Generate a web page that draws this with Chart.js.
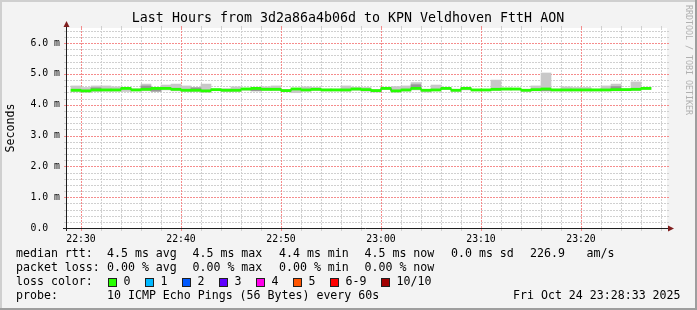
<!DOCTYPE html>
<html>
<head>
<meta charset="utf-8">
<script src="https://cdn.jsdelivr.net/npm/chart.js@4.4.1/dist/chart.umd.min.js"></script>
<style>
  html, body { margin: 0; padding: 0; background: #f3f3f3; }
  canvas { display: block; }
</style>
</head>
<body>
<canvas id="myChart" width="697" height="310"></canvas>
<script>
/* global Chart */

// one smoke bar per minute
const times = [
  "22:29", "22:30", "22:31", "22:32", "22:33", "22:34", "22:35", "22:36", "22:37", "22:38",
  "22:39", "22:40", "22:41", "22:42", "22:43", "22:44", "22:45", "22:46", "22:47", "22:48",
  "22:49", "22:50", "22:51", "22:52", "22:53", "22:54", "22:55", "22:56", "22:57", "22:58",
  "22:59", "23:00", "23:01", "23:02", "23:03", "23:04", "23:05", "23:06", "23:07", "23:08",
  "23:09", "23:10", "23:11", "23:12", "23:13", "23:14", "23:15", "23:16", "23:17", "23:18",
  "23:19", "23:20", "23:21", "23:22", "23:23", "23:24", "23:25", "23:26"
];
// milliseconds
const medianRtt = [
  4.47, 4.45, 4.48, 4.48, 4.48, 4.53, 4.48, 4.50, 4.53, 4.53,
  4.50, 4.47, 4.47, 4.45, 4.49, 4.47, 4.47, 4.51, 4.53, 4.50,
  4.50, 4.46, 4.51, 4.48, 4.50, 4.48, 4.48, 4.48, 4.51, 4.49,
  4.46, 4.53, 4.45, 4.48, 4.53, 4.47, 4.48, 4.53, 4.47, 4.53,
  4.48, 4.48, 4.50, 4.51, 4.51, 4.47, 4.49, 4.51, 4.48, 4.48,
  4.48, 4.48, 4.48, 4.48, 4.49, 4.49, 4.50, 4.53
];
const smokeMin = [
  4.42, 4.41, 4.43, 4.44, 4.44, 4.43, 4.45, 4.45, 4.43, 4.48,
  4.45, 4.43, 4.43, 4.41, 4.46, 4.43, 4.43, 4.47, 4.45, 4.46,
  4.46, 4.43, 4.39, 4.44, 4.46, 4.45, 4.45, 4.44, 4.47, 4.44,
  4.41, 4.49, 4.41, 4.44, 4.48, 4.41, 4.45, 4.49, 4.43, 4.48,
  4.45, 4.45, 4.46, 4.48, 4.48, 4.43, 4.45, 4.45, 4.45, 4.45,
  4.45, 4.45, 4.45, 4.45, 4.45, 4.46, 4.46, 4.50
];
const smokeMax = [
  4.61, 4.56, 4.61, 4.61, 4.58, 4.56, 4.52, 4.67, 4.55, 4.64,
  4.67, 4.61, 4.56, 4.67, 4.51, 4.52, 4.58, 4.54, 4.55, 4.58,
  4.61, 4.50, 4.54, 4.58, 4.56, 4.51, 4.51, 4.61, 4.56, 4.56,
  4.49, 4.56, 4.59, 4.61, 4.72, 4.50, 4.64, 4.56, 4.50, 4.56,
  4.50, 4.50, 4.80, 4.54, 4.53, 4.49, 4.61, 5.03, 4.51, 4.58,
  4.56, 4.56, 4.51, 4.61, 4.67, 4.52, 4.74, 4.56
];
// darker inner smoke, only where it shows
const coreLo = [
  null, null, 4.50, null, null, null, null, 4.52, 4.44, null,
  null, null, 4.47, null, null, null, null, null, 4.45, null,
  null, null, null, null, null, null, null, null, null, null,
  4.43, null, null, null, 4.55, null, null, null, null, null,
  null, null, null, null, null, null, null, 4.45, null, null,
  null, null, null, null, 4.50, null, null, null
];
const coreHi = [
  null, null, 4.55, null, null, null, null, 4.61, 4.52, null,
  null, null, 4.55, null, null, null, null, null, 4.52, null,
  null, null, null, null, null, null, null, null, null, null,
  4.47, null, null, null, 4.65, null, null, null, null, null,
  null, null, null, null, null, null, null, 4.50, null, null,
  null, null, null, null, 4.59, null, null, null
];

const xTickLabels = ["22:30", "22:40", "22:50", "23:00", "23:10", "23:20"];
const yTickLabels = ["0.0  ", "1.0 m", "2.0 m", "3.0 m", "4.0 m", "5.0 m", "6.0 m"];
const lossLabels = ["0", "1", "2", "3", "4", "5", "6-9", "10/10"];
const lossColors = ["#26ff00", "#00b8ff", "#0059ff", "#5e00ff", "#ff00ea", "#ff5500", "#ff0000", "#a10000"];
const rttStats = ["4.5 ms avg", "4.5 ms max", "4.4 ms min", "4.5 ms now", "0.0 ms sd", "226.9", "am/s"];
const lossStats = ["0.00 % avg", "0.00 % max", "0.00 % min", "0.00 % now"];
const titleText = "Last Hours from 3d2a86a4b06d to KPN Veldhoven FttH AON";
const probeText = "10 ICMP Echo Pings (56 Bytes) every 60s";
const stampText = "Fri Oct 24 23:28:33 2025";

// minutes after 22:00
function toMin(t) {
  const p = t.split(":").map(Number);
  return (p[0] - 22) * 60 + p[1];
}

const MONO = '"DejaVu Sans Mono"';
const gridMinor = "rgb(208,208,208)";
const gridMajor = "rgb(245,140,140)";
const bandHalf = 0.035; // half height of the median band

const last = times.length - 1;
const medianLine = times.map((t, i) => ({ x: toMin(t), y: medianRtt[i] }));
medianLine.push({ x: toMin(times[last]) + 1, y: medianRtt[last] });

// grid: every 2 min from 22:30, every 0.2 ms; every 5th line is major
const xGrid = [];
for (let v = 30; v <= 88; v += 2) xGrid.push(v);
const yGrid = [];
for (let i = 0; i <= 32; i++) yGrid.push(i / 5);

function dotted(ctx, x0, y0, x1, y1) {
  // 2 on / 1 off, single pixels so it stays crisp
  const horiz = y0 === y1;
  const n = horiz ? x1 - x0 : y1 - y0;
  for (let k = 0; k < n; k += 3) {
    const len = Math.min(2, n - k);
    if (horiz) ctx.fillRect(x0 + k, y0, len, 1);
    else ctx.fillRect(x0, y0 + k, 1, len);
  }
}

const rrdFrame = {
  id: "rrdFrame",
  beforeDraw(chart) {
    const { ctx, chartArea: a, width, height } = chart;
    ctx.save();
    ctx.fillStyle = "#f3f3f3";
    ctx.fillRect(0, 0, width, height);
    ctx.fillStyle = "#cfcfcf";
    ctx.fillRect(0, 0, width, 2);
    ctx.fillRect(0, 0, 2, height);
    ctx.fillStyle = "#9e9e9e";
    ctx.fillRect(0, height - 2, width, 2);
    ctx.fillRect(width - 2, 0, 2, height);
    ctx.fillStyle = "#ffffff";
    ctx.fillRect(a.left, a.top, a.right - a.left, a.bottom - a.top);
    ctx.restore();
  },
  beforeDatasetsDraw(chart) {
    const { ctx, chartArea: a, scales } = chart;
    const L = Math.round(a.left), R = Math.round(a.right);
    const T = Math.round(a.top), B = Math.round(a.bottom);
    ctx.save();
    // minor first, then major on top
    [false, true].forEach((major) => {
      ctx.fillStyle = major ? gridMajor : gridMinor;
      xGrid.forEach((v, i) => {
        if ((i % 5 === 0) !== major) return;
        const px = Math.round(scales.x.getPixelForValue(v));
        dotted(ctx, px, T, px, B);
        ctx.fillRect(px, T - 2, 1, 2);
        ctx.fillRect(px, B, 1, 3);
      });
      yGrid.forEach((v, i) => {
        if (i === 0 || (i % 5 === 0) !== major) return;
        const py = Math.round(scales.y.getPixelForValue(v));
        dotted(ctx, L, py, R, py);
        ctx.fillRect(L - 3, py, 3, 1);
        ctx.fillRect(R, py, 2, 1);
      });
    });
    ctx.restore();
  },
  afterDraw(chart) {
    const { ctx, chartArea: a } = chart;
    ctx.save();
    // axes
    ctx.strokeStyle = "#1f1f1f";
    ctx.lineWidth = 1;
    ctx.beginPath();
    ctx.moveTo(63, a.bottom + 0.5);
    ctx.lineTo(a.right + 1, a.bottom + 0.5);
    ctx.moveTo(a.left - 0.5, a.bottom + 3);
    ctx.lineTo(a.left - 0.5, a.top - 1);
    ctx.stroke();
    // arrows
    ctx.fillStyle = "#801f1f";
    ctx.beginPath();
    ctx.moveTo(a.left - 0.5, 21);
    ctx.lineTo(a.left - 3.5, 27);
    ctx.lineTo(a.left + 2.5, 27);
    ctx.closePath();
    ctx.fill();
    ctx.beginPath();
    ctx.moveTo(a.right + 7, a.bottom + 0.5);
    ctx.lineTo(a.right + 1, a.bottom - 2.5);
    ctx.lineTo(a.right + 1, a.bottom + 3.5);
    ctx.closePath();
    ctx.fill();

    // title
    ctx.fillStyle = "#000";
    ctx.textBaseline = "middle";
    ctx.textAlign = "center";
    ctx.font = "13.3px " + MONO;
    ctx.fillText(titleText, 348, 19);

    // y axis title
    ctx.font = "11.6px " + MONO;
    ctx.save();
    ctx.translate(11, 128);
    ctx.rotate(-Math.PI / 2);
    ctx.fillText("Seconds", 0, 0);
    ctx.restore();

    // watermark
    ctx.save();
    ctx.fillStyle = "#b0b0b0";
    ctx.font = "8.3px " + MONO;
    ctx.translate(688, 60);
    ctx.rotate(Math.PI / 2);
    ctx.fillText("RRDTOOL / TOBI OETIKER", 0, 0);
    ctx.restore();

    // legend
    ctx.textAlign = "left";
    ctx.font = "11.6px " + MONO;
    const statX = [107, 192.5, 279, 364.5, 451, 530, 586.5];
    ctx.fillText("median rtt:", 16, 254);
    rttStats.forEach((s, i) => ctx.fillText(s, statX[i], 254));
    ctx.fillText("packet loss:", 16, 268);
    lossStats.forEach((s, i) => ctx.fillText(s, statX[i], 268));
    ctx.fillText("loss color:", 16, 282);
    const boxX = [108, 145, 182, 219, 256, 293, 330, 381];
    lossLabels.forEach((s, i) => {
      ctx.fillStyle = lossColors[i];
      ctx.fillRect(boxX[i], 278, 8, 8);
      ctx.strokeStyle = "#1f1f1f";
      ctx.strokeRect(boxX[i] + 0.5, 278.5, 8, 8);
      ctx.fillStyle = "#000";
      ctx.fillText(s, boxX[i] + 15.5, 282);
    });
    ctx.fillText("probe:", 16, 296);
    ctx.fillText(probeText, 107, 296);
    ctx.fillText(stampText, 513, 296);
    ctx.restore();
  }
};

const ctx = document.getElementById("myChart").getContext("2d");
const myChart = new Chart(ctx, {
  type: "bar",
  data: {
    datasets: [
      {
        type: "bar",
        label: "smoke",
        data: times.map((t, i) => ({ x: toMin(t) + 0.5, y: [smokeMin[i], smokeMax[i]] })),
        backgroundColor: "rgb(200,200,200)",
        barPercentage: 1,
        categoryPercentage: 1,
        grouped: false,
        order: 4
      },
      {
        type: "bar",
        label: "smoke core",
        data: times
          .map((t, i) => ({ x: toMin(t) + 0.5, y: [coreLo[i], coreHi[i]] }))
          .filter((d) => d.y[0] !== null),
        backgroundColor: "rgb(150,150,150)",
        barPercentage: 1,
        categoryPercentage: 1,
        grouped: false,
        order: 3
      },
      {
        type: "line",
        label: "median",
        data: medianLine,
        stepped: true,
        borderColor: "#202020",
        borderWidth: 1,
        pointRadius: 0,
        order: 2
      },
      {
        type: "bar",
        label: "median band",
        data: times.map((t, i) => ({ x: toMin(t) + 0.5, y: [medianRtt[i] - bandHalf, medianRtt[i] + bandHalf] })),
        backgroundColor: lossColors[0],
        barPercentage: 1,
        categoryPercentage: 1,
        grouped: false,
        order: 1
      }
    ]
  },
  options: {
    responsive: false,
    animation: false,
    devicePixelRatio: 1,
    layout: { padding: { top: 28, right: 30, left: 0, bottom: 0 } },
    plugins: { legend: { display: false }, tooltip: { enabled: false } },
    scales: {
      x: {
        type: "linear",
        min: 28.6,
        max: 88.6,
        offset: false,
        afterBuildTicks: (s) => {
          s.ticks = xGrid.map((v) => ({ value: v }));
        },
        afterFit: (s) => { s.height = 82; },
        grid: {
          offset: false,
          drawOnChartArea: false,
          drawTicks: true,
          tickLength: 3,
          tickColor: "rgba(0,0,0,0)"
        },
        border: { display: false },
        ticks: {
          autoSkip: false,
          maxRotation: 0,
          padding: 3,
          color: "#000",
          font: { family: MONO, size: 9.8 },
          callback: (v, i) => (i % 5 === 0 ? xTickLabels[i / 5] : "")
        }
      },
      y: {
        min: 0,
        max: 6.49,
        afterBuildTicks: (s) => {
          s.ticks = yGrid.map((v) => ({ value: v }));
        },
        afterFit: (s) => { s.width = 67; },
        grid: {
          drawOnChartArea: false,
          drawTicks: true,
          tickLength: 3,
          tickColor: "rgba(0,0,0,0)"
        },
        border: { display: false },
        ticks: {
          autoSkip: false,
          padding: 4,
          color: "#000",
          font: { family: MONO, size: 9.8 },
          callback: (v, i) => (i % 5 === 0 ? yTickLabels[i / 5] : "")
        }
      }
    }
  },
  plugins: [rrdFrame]
});
</script>
</body>
</html>
